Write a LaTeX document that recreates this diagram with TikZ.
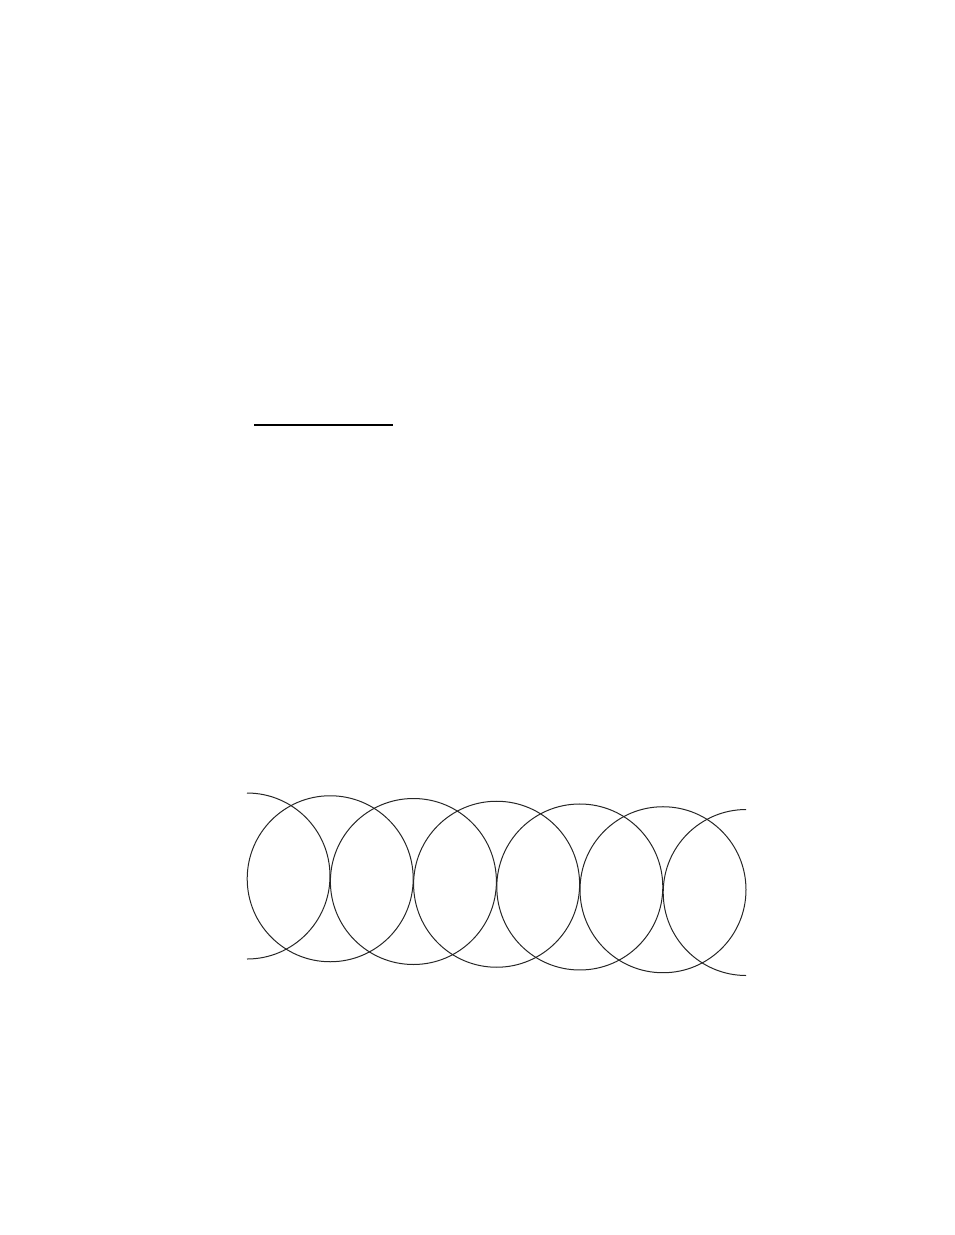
\documentclass[tikz,border=0pt]{standalone}
\usetikzlibrary{calc}
\begin{document}
\begin{tikzpicture}[x=1pt,y=-1pt]
	% Cadre
	\useasboundingbox (0,0) rectangle (954,1235);
	% Trait
	\coordinate (trait g) at (254,425);
	\coordinate (trait d) at (393,425);
	\draw [line width=1.4pt] (trait g) -- (trait d);
	% Cercles
	\foreach \i in {1,...,5} {
		\pgfmathsetmacro{\cx}{247+83.2*\i}
		\pgfmathsetmacro{\cy}{876+0.033*83.2*\i}
		\draw [line width=1pt,black!85] (\cx,\cy) circle [radius=83];
	}
	% Demi-cercles aux bouts
	\coordinate (c0) at (247,876);
	\coordinate (c6) at (746.2,892.5);
	\draw [line width=1pt,black!85] (c0) ++(-90:83) arc [start angle=-90, end angle=90, radius=83];
	\draw [line width=1pt,black!85] (c6) ++(90:83) arc [start angle=90, end angle=270, radius=83];
\end{tikzpicture}
\end{document}
